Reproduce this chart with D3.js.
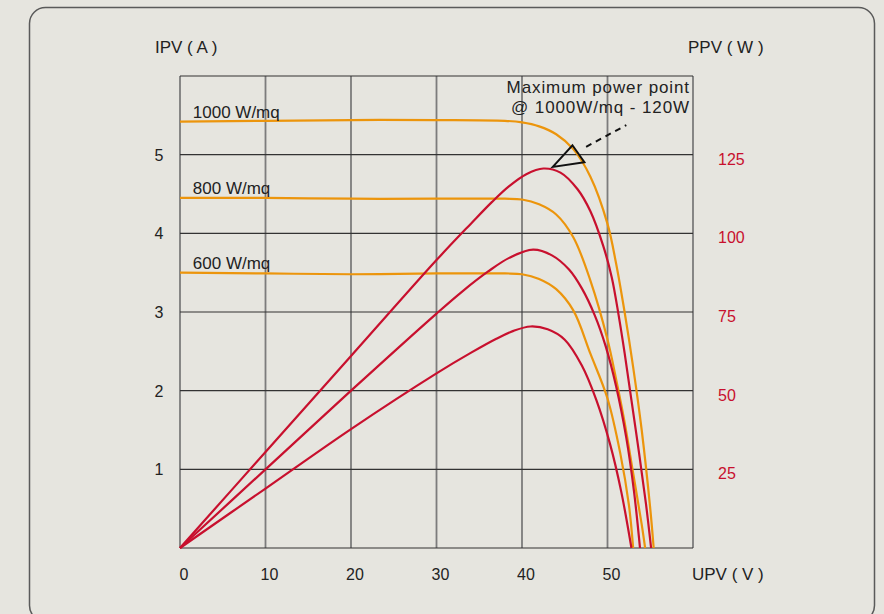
<!DOCTYPE html>
<html>
<head>
<meta charset="utf-8">
<script src="https://cdn.jsdelivr.net/npm/d3@7"></script>
<style>
  html, body { margin: 0; padding: 0; background: #e6e5df; }
  svg { display: block; }
  text { font-family: "Liberation Sans", Arial, sans-serif; fill: #222; }
</style>
</head>
<body>
<svg id="chart" width="884" height="614"></svg>
<script>
// irradiance levels and their curves
var levels = ["1000 W/mq", "800 W/mq", "600 W/mq"];

// current (A) vs voltage (V)
var current1000 = [[0,5.42],[10,5.43],[20,5.44],[30,5.44],[38,5.43],[40,5.41],[42,5.36],[44,5.26],[46,5.07],[48,4.72],[50,4.12],[51,3.62],[52,3.0],[53,2.3],[54,1.5],[55,0.5],[55.4,0]];
var current800 = [[0,4.45],[10,4.45],[20,4.44],[30,4.44],[38,4.44],[40,4.43],[42,4.37],[44,4.24],[46,3.95],[48,3.4],[50,2.65],[51,2.15],[52,1.6],[53,0.95],[54,0.3],[54.4,0]];
var current600 = [[0,3.5],[10,3.49],[20,3.48],[30,3.49],[38,3.49],[40,3.48],[42,3.42],[44,3.29],[46,3.02],[48,2.47],[50,1.9],[51.5,1.2],[52.5,0.55],[53,0]];

// power (W) vs voltage (V)
var power1000 = [[0,0],[10,30.5],[20,61],[30,91.5],[34,103],[36.5,110],[38.5,115],[40.5,118.8],[42.5,120.6],[44.5,119.3],[46.5,114],[48,107],[49.5,96],[50.5,86],[51.3,74],[52,62],[52.8,47],[53.7,30],[54.5,14],[55.1,0]];
var power800 = [[0,0],[10,25],[20,50],[30,74.5],[33,81.5],[36,87.8],[38.5,92.2],[41.3,94.8],[43.5,93],[45.5,88.5],[47,82.5],[48.5,74],[49.8,64],[51,51.5],[52.2,35],[53.1,18],[53.8,0]];
var power600 = [[0,0],[10,18.9],[20,37.8],[30,55.5],[34,62],[37,66.5],[39,69],[41,70.4],[43,69.5],[45,66.2],[47,58],[48.7,47],[50.3,33],[51.6,18],[52.8,0]];

var voltTicks = [0, 10, 20, 30, 40, 50];
var currentTicks = [1, 2, 3, 4, 5];
var powerTicks = [25, 50, 75, 100, 125];

// maximum power point marker (V, W)
var mppTriangle = [[43.6,121.1],[45.9,128],[47.3,122.6]];
var mppLeader = [[47.5,127.5],[52.2,134.4]];
var mppText = ["Maximum power point", "@ 1000W/mq - 120W"];

var orange = "#ec950c";
var red = "#c8102e";

var svg = d3.select("#chart");

// outer frame
svg.append("rect")
  .attr("x", 29.5).attr("y", 7.5)
  .attr("width", 845).attr("height", 614)
  .attr("rx", 16).attr("ry", 16)
  .attr("fill", "#e6e5df")
  .attr("stroke", "#5a5a5a")
  .attr("stroke-width", 1.5);

var x = d3.scaleLinear().domain([0, 60]).range([180, 693]);
var y = d3.scaleLinear().domain([0, 6]).range([548, 76]);
var yP = d3.scaleLinear().domain([0, 150]).range([548, 76]);

var g = svg.append("g");

// grid
g.selectAll("line.v")
  .data(d3.range(0, 61, 10))
  .enter().append("line")
  .attr("class", "v")
  .attr("x1", function(d) { return x(d); })
  .attr("x2", function(d) { return x(d); })
  .attr("y1", y(0)).attr("y2", y(6))
  .attr("stroke", "#7c7c7c")
  .attr("stroke-width", 1.8);

g.selectAll("line.h")
  .data(d3.range(0, 7))
  .enter().append("line")
  .attr("class", "h")
  .attr("x1", x(0)).attr("x2", x(60))
  .attr("y1", function(d) { return y(d); })
  .attr("y2", function(d) { return y(d); })
  .attr("stroke", "#333")
  .attr("stroke-width", 1.2);

// tick labels
g.selectAll("text.xt")
  .data(voltTicks)
  .enter().append("text")
  .attr("x", function(d) { return x(d) + 4; })
  .attr("y", 580)
  .attr("text-anchor", "middle")
  .attr("font-size", 16)
  .text(function(d) { return d; });

g.selectAll("text.yt")
  .data(currentTicks)
  .enter().append("text")
  .attr("x", 159)
  .attr("y", function(d) { return y(d) + 6; })
  .attr("text-anchor", "middle")
  .attr("font-size", 16)
  .text(function(d) { return d; });

g.selectAll("text.pt")
  .data(powerTicks)
  .enter().append("text")
  .attr("x", 718)
  .attr("y", function(d) { return yP(d) + 10; })
  .attr("font-size", 16)
  .style("fill", red)
  .text(function(d) { return d; });

// axis titles
g.append("text").attr("x", 155).attr("y", 53).attr("font-size", 17).text("IPV ( A )");
g.append("text").attr("x", 688).attr("y", 53).attr("font-size", 17).text("PPV ( W )");
g.append("text").attr("x", 692).attr("y", 580).attr("font-size", 17).text("UPV ( V )");

// curves
var lineI = d3.line()
  .x(function(d) { return x(d[0]); })
  .y(function(d) { return y(d[1]); })
  .curve(d3.curveCatmullRom.alpha(0.5));

var lineP = d3.line()
  .x(function(d) { return x(d[0]); })
  .y(function(d) { return yP(d[1]); })
  .curve(d3.curveCatmullRom.alpha(0.5));

[current1000, current800, current600].forEach(function(s) {
  g.append("path").attr("d", lineI(s))
    .attr("fill", "none").attr("stroke", orange).attr("stroke-width", 2.2);
});

[power1000, power800, power600].forEach(function(s) {
  g.append("path").attr("d", lineP(s))
    .attr("fill", "none").attr("stroke", red).attr("stroke-width", 2.2);
});

// curve labels, sitting on the flat part of each current curve
[current1000, current800, current600].forEach(function(s, i) {
  g.append("text")
    .attr("x", x(1.5))
    .attr("y", y(s[0][1]) - 3.5)
    .attr("font-size", 17)
    .text(levels[i]);
});

// maximum power point marker
g.append("path")
  .attr("d", d3.line().x(function(d) { return x(d[0]); }).y(function(d) { return yP(d[1]); })(mppTriangle) + "Z")
  .attr("fill", "none").attr("stroke", "#111").attr("stroke-width", 2);

g.append("line")
  .attr("x1", x(mppLeader[0][0])).attr("y1", yP(mppLeader[0][1]))
  .attr("x2", x(mppLeader[1][0])).attr("y2", yP(mppLeader[1][1]))
  .attr("stroke", "#111").attr("stroke-width", 2)
  .attr("stroke-dasharray", "6,5");

mppText.forEach(function(t, i) {
  g.append("text")
    .attr("x", 690)
    .attr("y", 93 + i * 20)
    .attr("text-anchor", "end")
    .attr("font-size", 17)
    .attr("letter-spacing", 0.9)
    .text(t);
});
</script>
</body>
</html>
